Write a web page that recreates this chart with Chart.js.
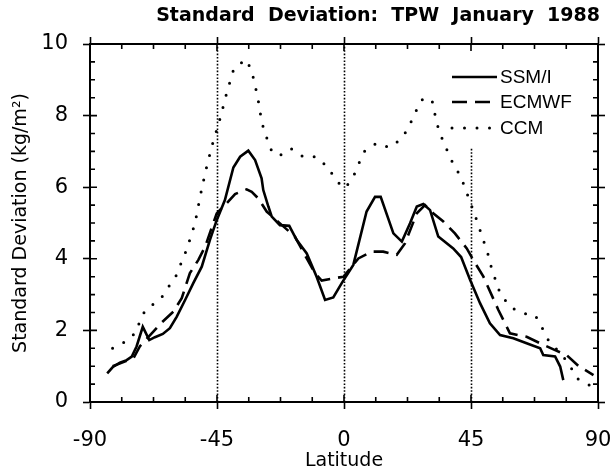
<!DOCTYPE html>
<html>
<head>
<meta charset="utf-8">
<script src="https://cdn.jsdelivr.net/npm/chart.js@4/dist/chart.umd.min.js"></script>
<style>
html,body{margin:0;padding:0;background:#fff;}
#wrap{width:612px;height:472px;}
</style>
</head>
<body>
<div id="wrap"><canvas id="c" width="612" height="472"></canvas></div>
<script>
// ---- data ----
const xTicks = [-90, -45, 0, 45, 90];
const yTicks = [0, 2, 4, 6, 8, 10];
const xMinorStep = 11.25;
const yMinorStep = 0.5;
const seriesNames = ['SSM/I', 'ECMWF', 'CCM'];

const ssmiLat = [-83.9,-82.0,-79.4,-77.0,-75.2,-73.5,-71.3,-69.0,-67.0,-64.2,-61.7,-59.3,-56.3,-53.4,-50.4,-47.5,-45.1,-42.2,-39.2,-36.8,-33.9,-31.5,-29.2,-28.6,-26.8,-25.6,-22.7,-19.4,-16.8,-13.2,-9.7,-6.7,-3.8,-0.8,3.3,8.0,11.0,13.0,17.5,20.5,23.4,25.8,28.1,30.5,33.4,38.7,41.5,44.7,48.2,51.7,55.3,60.0,64.7,69.5,70.6,74.8,76.6,77.7];
const ssmiVal = [0.80,0.97,1.10,1.17,1.27,1.55,2.10,1.73,1.81,1.90,2.06,2.38,2.85,3.32,3.78,4.53,5.08,5.64,6.55,6.85,7.02,6.76,6.25,5.92,5.46,5.18,4.94,4.92,4.53,4.15,3.50,2.85,2.92,3.32,3.83,5.32,5.73,5.73,4.71,4.48,4.99,5.46,5.53,5.36,4.62,4.29,4.05,3.41,2.76,2.20,1.87,1.78,1.64,1.50,1.31,1.27,0.99,0.61];

const ecmwfLat = [-82.0,-77.0,-74.6,-72.3,-68.7,-64.6,-60.5,-57.5,-54.6,-51.6,-49.2,-45.1,-41.6,-38.6,-34.5,-32.7,-30.4,-27.4,-22.7,-17.4,-13.2,-10.3,-7.9,-3.8,-0.2,5.1,9.8,13.9,18.7,21.6,25.8,28.7,31.6,35.2,39.3,43.5,45.8,49.4,54.7,58.8,64.7,69.5,74.8,78.9,83.0,88.4];
const ecmwfVal = [1.00,1.15,1.22,1.56,1.87,2.22,2.52,2.90,3.60,3.97,4.34,5.27,5.55,5.81,5.94,5.87,5.69,5.32,4.99,4.62,4.01,3.60,3.39,3.45,3.50,4.01,4.20,4.20,4.11,4.43,5.27,5.50,5.27,5.04,4.71,4.29,3.97,3.50,2.57,1.92,1.82,1.64,1.45,1.31,1.01,0.75];

const ccmLat = [-82.0,-77.6,-73.5,-72.1,-69.9,-65.2,-62.3,-59.5,-57.5,-55.7,-52.8,-51.0,-49.1,-46.8,-43.9,-41.6,-39.0,-34.7,-32.7,-30.6,-29.1,-27.6,-26.0,-23.1,-18.8,-14.2,-9.7,-5.4,-2.8,0.4,3.3,5.3,7.4,11.6,16.1,20.5,23.0,25.2,27.5,31.1,32.9,34.6,36.6,38.7,41.4,42.9,46.4,48.2,51.1,52.3,55.3,58.8,62.9,67.7,70.1,72.4,76.6,79.5,82.5,87.8];
const ccmVal = [1.50,1.68,1.96,2.34,2.62,2.85,3.20,3.53,3.92,4.27,4.99,5.73,6.43,7.15,7.92,8.62,9.32,9.57,9.25,8.53,7.80,7.43,7.06,6.87,7.08,6.84,6.85,6.53,6.18,5.97,6.29,6.67,7.02,7.23,7.11,7.36,7.69,8.08,8.44,8.46,7.78,7.39,7.02,6.65,6.29,5.97,5.22,4.80,4.11,3.73,3.04,2.66,2.48,2.43,2.09,1.73,1.36,1.10,0.66,0.43];

// vertical dotted markers: latitude and the value where each stops
const markerLat = [-45, 0, 45];
const markerTop = [10, 10, 7.1];

const pts = (xs, ys) => xs.map((v, i) => ({x: v, y: ys[i]}));
const FONT = '"Liberation Sans", Arial, Helvetica, sans-serif';
const WIDE = '"DejaVu Sans", "Liberation Sans", Arial, sans-serif';

const steps = (lo, hi, st) => { const a = []; for (let k = 0; lo + k * st <= hi + 1e-9; k++) a.push(lo + k * st); return a; };
const xAll = steps(-90, 90, xMinorStep);
const yAll = steps(0, 10, yMinorStep);
const isMajX = v => xTicks.some(t => Math.abs(t - v) < 1e-6);
const isMajY = v => yTicks.some(t => Math.abs(t - v) < 1e-6);

const tickGrid = isMaj => ({
  display: true, drawOnChartArea: false, drawTicks: true, tickLength: 7, tickWidth: 1.6,
  tickColor: c => (c.tick && isMaj(c.tick.value)) ? '#000' : 'rgba(0,0,0,0)'
});
const axisBorder = {display: true, color: '#000', width: 2};

const framePlugin = {
  id: 'frame',
  beforeDatasetsDraw(chart) {
    const {ctx, scales} = chart;
    const x = scales.x, y = scales.y;
    ctx.save();
    ctx.strokeStyle = '#000';
    ctx.lineWidth = 1.6;
    ctx.setLineDash([1.6, 1.8]);
    markerLat.forEach((lat, i) => {
      const px = Math.round(x.getPixelForValue(lat)) + 0.5;
      ctx.beginPath();
      ctx.moveTo(px, y.getPixelForValue(0));
      ctx.lineTo(px, y.getPixelForValue(markerTop[i]));
      ctx.stroke();
    });
    ctx.restore();
    // inward tick parts
    const a = chart.chartArea;
    ctx.save();
    ctx.setLineDash([]);
    ctx.strokeStyle = '#000';
    ctx.lineWidth = 1.6;
    ctx.beginPath();
    xAll.forEach(v => {
      const px = x.getPixelForValue(v);
      const len = isMajX(v) ? 7 : 5;
      ctx.moveTo(px, a.bottom); ctx.lineTo(px, a.bottom - len);
      ctx.moveTo(px, a.top); ctx.lineTo(px, a.top + len);
    });
    yAll.forEach(v => {
      const py = y.getPixelForValue(v);
      const len = isMajY(v) ? 7 : 5;
      ctx.moveTo(a.left, py); ctx.lineTo(a.left + len, py);
      ctx.moveTo(a.right, py); ctx.lineTo(a.right - len, py);
    });
    ctx.stroke();
    ctx.restore();
  },
  afterDatasetsDraw(chart) {
    const {ctx} = chart;
    ctx.save();
    const x0 = 452, x1 = 497, tx = 500, ys = [77, 102, 128];
    chart.data.datasets.forEach((ds, i) => {
      ctx.strokeStyle = ds.borderColor;
      ctx.lineWidth = ds.borderWidth;
      ctx.lineCap = ds.borderCapStyle || 'butt';
      ctx.setLineDash(ds.borderDash || []);
      ctx.beginPath();
      ctx.moveTo(x0, ys[i]);
      ctx.lineTo(x1, ys[i]);
      ctx.stroke();
      ctx.setLineDash([]);
      ctx.fillStyle = '#000';
      ctx.font = '19px ' + FONT;
      ctx.textBaseline = 'middle';
      ctx.textAlign = 'left';
      ctx.fillText(ds.label, tx, ys[i] + 1);
    });
    ctx.restore();
  }
};

new Chart(document.getElementById('c'), {
  type: 'line',
  data: {
    datasets: [
      {label: seriesNames[0], data: pts(ssmiLat, ssmiVal), borderColor: '#000', borderWidth: 2.6, pointRadius: 0, tension: 0},
      {label: seriesNames[1], data: pts(ecmwfLat, ecmwfVal), borderColor: '#000', borderWidth: 2.6, borderDash: [15, 8], pointRadius: 0, tension: 0},
      {label: seriesNames[2], data: pts(ccmLat, ccmVal), borderColor: '#000', borderWidth: 3, borderDash: [0, 12.5], borderCapStyle: 'round', pointRadius: 0, tension: 0}
    ]
  },
  options: {
    responsive: false,
    animation: false,
    events: [],
    layout: {padding: {left: 0, right: 12, top: 0, bottom: 0}},
    plugins: {
      legend: {display: false},
      tooltip: {enabled: false},
      title: {
        display: true,
        text: 'Standard  Deviation:  TPW  January  1988',
        color: '#000',
        font: {family: WIDE, size: 19, weight: 'bold'},
        padding: {top: 5, bottom: 16.2},
        align: 'end'
      }
    },
    scales: {
      x: {
        type: 'linear', position: 'bottom',
        min: -90, max: 90,
        afterBuildTicks: s => { s.ticks = xAll.map(v => ({value: v})); },
        afterFit: s => { s.height = 70; s.paddingLeft = 0; s.paddingRight = 0; },
        grid: tickGrid(isMajX),
        border: axisBorder,
        ticks: {color: '#000', font: {family: WIDE, size: 21}, padding: 19, maxRotation: 0, autoSkip: false,
                callback: v => isMajX(v) ? String(v) : ''},
        title: {display: true, text: 'Latitude', color: '#000', font: {family: WIDE, size: 19}, padding: {top: 0, bottom: 0}}
      },
      x2: {
        type: 'linear', position: 'top', axis: 'x',
        min: -90, max: 90,
        afterBuildTicks: s => { s.ticks = xAll.map(v => ({value: v})); },
        afterFit: s => { s.height = 0; s.paddingLeft = 0; s.paddingRight = 0; },
        grid: tickGrid(isMajX),
        border: axisBorder,
        ticks: {display: false}
      },
      y: {
        type: 'linear', position: 'left',
        min: 0, max: 10,
        afterBuildTicks: s => { s.ticks = yAll.map(v => ({value: v})); },
        afterFit: s => { s.width = 90; s.paddingTop = 0; s.paddingBottom = 0; },
        grid: tickGrid(isMajY),
        border: axisBorder,
        ticks: {color: '#000', font: {family: WIDE, size: 21}, padding: 15, autoSkip: false,
                callback: v => isMajY(v) ? String(v) : ''},
        title: {display: true, text: 'Standard Deviation (kg/m²)', color: '#000', font: {family: WIDE, size: 19}, padding: {top: 10, bottom: 0}}
      },
      y2: {
        type: 'linear', position: 'right', axis: 'y',
        min: 0, max: 10,
        afterBuildTicks: s => { s.ticks = yAll.map(v => ({value: v})); },
        afterFit: s => { s.width = 2; s.paddingTop = 0; s.paddingBottom = 0; },
        grid: tickGrid(isMajY),
        border: axisBorder,
        ticks: {display: false}
      }
    }
  },
  plugins: [framePlugin]
});
</script>
</body>
</html>
